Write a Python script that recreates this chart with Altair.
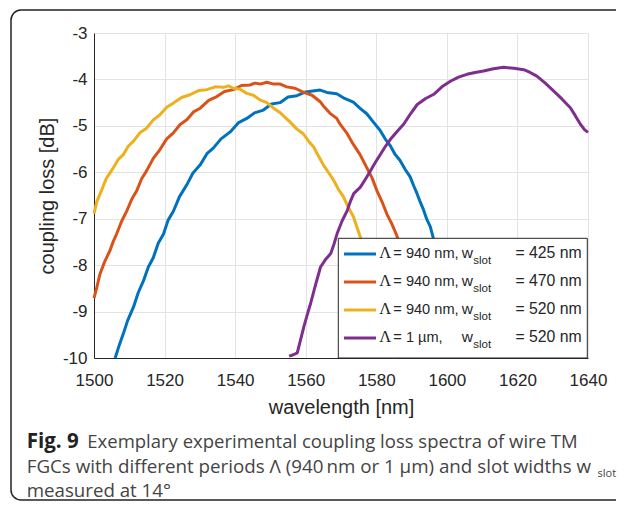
import math
import altair as alt
import pandas as pd

# ---------------- data ----------------
wl_425 = [1506.0, 1507.0, 1508.3, 1509.5, 1511.2, 1512.5, 1514.0, 1515.4, 1516.8, 1518.2,
          1519.7, 1521.0, 1522.5, 1524.2, 1526.3, 1528.0, 1530.1, 1532.0, 1533.8, 1536.0,
          1538.6, 1541.0, 1543.3, 1545.5, 1548.0, 1550.3, 1552.7, 1555.0, 1557.5, 1560.0,
          1562.0, 1564.1, 1566.0, 1568.8, 1571.0, 1573.5, 1575.5, 1577.3, 1579.3, 1581.1,
          1582.5, 1583.9, 1585.3, 1586.7, 1588.2, 1589.6, 1590.6, 1591.5, 1592.5, 1593.4,
          1594.3, 1595.3, 1596.2, 1597.2, 1598.3, 1599.5, 1600.8, 1602.2, 1603.6]
db_425 = [-10.0, -9.76, -9.48, -9.20, -8.90, -8.60, -8.34, -8.04, -7.84, -7.53,
          -7.33, -7.03, -6.84, -6.53, -6.27, -6.02, -5.84, -5.60, -5.48, -5.28,
          -5.13, -4.93, -4.84, -4.72, -4.66, -4.53, -4.50, -4.38, -4.35, -4.27,
          -4.25, -4.23, -4.28, -4.31, -4.41, -4.49, -4.63, -4.74, -4.93, -5.10,
          -5.28, -5.42, -5.61, -5.74, -5.94, -6.10, -6.29, -6.45, -6.65, -6.81,
          -7.01, -7.17, -7.43, -7.72, -8.05, -8.45, -8.90, -9.40, -10.0]

wl_470 = [1500.0, 1500.8, 1501.7, 1503.0, 1504.5, 1505.4, 1506.4, 1507.8, 1509.3, 1510.7,
          1512.1, 1513.5, 1514.9, 1516.8, 1518.7, 1520.6, 1522.5, 1524.4, 1526.3, 1528.2,
          1530.1, 1532.5, 1534.8, 1537.0, 1539.5, 1541.8, 1544.2, 1545.6, 1547.1, 1549.0,
          1550.9, 1552.8, 1554.6, 1557.0, 1559.4, 1561.8, 1564.1, 1565.0, 1566.9, 1568.8,
          1569.8, 1571.6, 1573.5, 1575.4, 1577.3, 1578.8, 1580.2, 1581.6, 1583.0, 1584.4,
          1585.8, 1587.0, 1588.3, 1589.6, 1591.0, 1592.4, 1593.8, 1595.0]
db_470 = [-8.71, -8.48, -8.19, -7.93, -7.69, -7.50, -7.33, -7.06, -6.83, -6.58,
          -6.40, -6.14, -5.97, -5.70, -5.51, -5.28, -5.15, -4.97, -4.87, -4.70,
          -4.62, -4.45, -4.37, -4.26, -4.22, -4.13, -4.12, -4.08, -4.10, -4.06,
          -4.10, -4.10, -4.16, -4.19, -4.28, -4.34, -4.48, -4.57, -4.73, -4.84,
          -4.97, -5.15, -5.40, -5.62, -5.90, -6.12, -6.40, -6.63, -6.90, -7.11,
          -7.36, -7.62, -7.95, -8.30, -8.72, -9.15, -9.60, -10.0]

wl_520 = [1500.0, 1500.8, 1501.7, 1503.5, 1505.5, 1506.9, 1508.3, 1509.7, 1511.2, 1513.0,
          1514.9, 1516.8, 1518.7, 1520.6, 1522.5, 1524.8, 1527.2, 1529.6, 1532.0, 1534.3,
          1536.7, 1538.1, 1539.5, 1541.4, 1543.3, 1545.2, 1547.0, 1549.0, 1550.9, 1552.8,
          1554.6, 1555.6, 1557.5, 1559.3, 1560.8, 1562.2, 1563.6, 1565.0, 1566.5, 1567.9,
          1569.3, 1570.7, 1572.1, 1573.5, 1574.5, 1575.4, 1576.8, 1578.2, 1579.6, 1581.0,
          1582.5, 1584.0, 1585.2]
db_520 = [-6.89, -6.63, -6.47, -6.13, -5.90, -5.72, -5.62, -5.44, -5.33, -5.15,
          -5.05, -4.87, -4.76, -4.60, -4.51, -4.39, -4.33, -4.24, -4.22, -4.16,
          -4.17, -4.14, -4.19, -4.21, -4.30, -4.34, -4.44, -4.50, -4.62, -4.72,
          -4.85, -4.92, -5.07, -5.17, -5.33, -5.45, -5.65, -5.84, -6.01, -6.17,
          -6.37, -6.53, -6.76, -6.95, -7.18, -7.38, -7.70, -8.05, -8.45, -8.85,
          -9.30, -9.70, -10.0]

wl_1um = [1555.3, 1556.5, 1557.6, 1558.5, 1559.5, 1560.5, 1561.4, 1562.8, 1564.2, 1565.6,
          1567.1, 1568.0, 1568.9, 1570.3, 1571.8, 1572.7, 1573.6, 1575.5, 1577.0, 1578.4,
          1579.8, 1581.2, 1582.6, 1584.0, 1585.9, 1587.8, 1589.7, 1591.6, 1594.0, 1596.3,
          1598.6, 1601.0, 1603.3, 1605.7, 1608.0, 1610.4, 1613.2, 1616.1, 1619.0, 1621.8,
          1623.6, 1625.5, 1627.9, 1630.3, 1632.6, 1635.0, 1636.4, 1637.8, 1639.0, 1640.0]
db_1um = [-9.96, -9.93, -9.89, -9.62, -9.32, -9.05, -8.82, -8.42, -8.04, -7.88,
          -7.75, -7.55, -7.32, -7.05, -6.82, -6.62, -6.46, -6.32, -6.14, -5.96,
          -5.78, -5.61, -5.44, -5.29, -5.12, -4.96, -4.74, -4.54, -4.41, -4.32,
          -4.16, -4.04, -3.95, -3.89, -3.85, -3.82, -3.77, -3.74, -3.76, -3.79,
          -3.85, -3.93, -4.08, -4.25, -4.42, -4.61, -4.78, -4.96, -5.08, -5.14]

series_names = ["w425", "w470", "w520", "p1um"]
series_colors = ["#0072BD", "#D95319", "#EDB120", "#7E2F8E"]
legend_periods = ["= 940 nm,", "= 940 nm,", "= 940 nm,", "= 1 µm,"]
legend_slots = ["= 425 nm", "= 470 nm", "= 520 nm", "= 520 nm"]

x_ticks = [1500, 1520, 1540, 1560, 1580, 1600, 1620, 1640]
y_ticks = [-10, -9, -8, -7, -6, -5, -4, -3]

caption_bold = "Fig. 9"
caption_l1 = "Exemplary experimental coupling loss spectra of wire TM"
caption_l2 = "FGCs with different periods \u039b (940\u2009nm or 1 \u00b5m) and slot widths w"
caption_sub = "slot"
caption_l3 = "measured at 14\u00b0"

# ---------------- build table ----------------
rows = []
for name, wls, dbs in zip(series_names, [wl_425, wl_470, wl_520, wl_1um],
                          [db_425, db_470, db_520, db_1um]):
    for w, d in zip(wls, dbs):
        rows.append({"series": name, "wl": w, "db": d})
df = pd.DataFrame(rows)

W, H = 494, 325
SANS = "Liberation Sans"
CAP = "Open Sans"
AX = "#262626"

lines = alt.Chart(df).mark_line(strokeWidth=3, strokeJoin="round").encode(
    x=alt.X("wl:Q",
            scale=alt.Scale(domain=[1500, 1640], nice=False, zero=False),
            axis=alt.Axis(values=x_ticks, format="d", title="wavelength [nm]",
                          ticks=False, tickSize=0, labelPadding=27,
                          labelBaseline="alphabetic", labelFlush=False,
                          labelOverlap=False, labelFont=SANS, labelFontSize=17,
                          labelColor=AX, titleFont=SANS, titleFontSize=20,
                          titleFontWeight="normal", titleColor=AX,
                          titleX=247, titleY=55, titleBaseline="alphabetic",
                          titleAlign="center", grid=True, gridColor="#e3e3e3",
                          domainColor=AX)),
    y=alt.Y("db:Q",
            scale=alt.Scale(domain=[-10, -3], nice=False, zero=False),
            axis=alt.Axis(values=y_ticks, labelExpr="'' + datum.value",
                          title="coupling loss [dB]", ticks=False, tickSize=0,
                          labelPadding=7, labelFlush=False, labelOverlap=False,
                          labelFont=SANS, labelFontSize=17, labelColor=AX,
                          titleFont=SANS, titleFontSize=20, titleFontWeight="normal",
                          titleColor=AX, titleX=-41, titleY=162.5, titleAngle=270,
                          titleBaseline="alphabetic", titleAlign="center",
                          grid=True, gridColor="#e3e3e3", domainColor=AX)),
    color=alt.Color("series:N",
                    scale=alt.Scale(domain=series_names, range=series_colors),
                    legend=None),
    order=alt.Order("wl:Q"),
)

one = pd.DataFrame({"k": [0]})


def txt(s, x, y, size, font=SANS, align="left", weight="normal", color=AX,
        baseline="alphabetic"):
    return alt.Chart(one).mark_text(
        text=s, font=font, fontSize=size, align=align, baseline=baseline,
        fontWeight=weight, color=color,
    ).encode(x=alt.value(x), y=alt.value(y))


layers = [lines]

# legend box
layers.append(alt.Chart(one).mark_rect(fill="white", stroke=AX, strokeWidth=1).encode(
    x=alt.value(244.3), x2=alt.value(493.3), y=alt.value(205.3), y2=alt.value(325)))

for i in range(4):
    yc = 221 + 28 * i
    layers.append(alt.Chart(one).mark_rule(color=series_colors[i], strokeWidth=3).encode(
        x=alt.value(250), x2=alt.value(282), y=alt.value(yc)))
    layers.append(txt("\u039b", 285.3, yc + 4, 16.5, font="Liberation Serif"))
    layers.append(txt(legend_periods[i], 299.3, yc + 4, 14.6))
    layers.append(txt("w", 367.7, yc + 4, 15.5))
    layers.append(txt("slot", 379.3, yc + 10, 11.5))
    layers.append(txt(legend_slots[i], 487.7, yc + 4, 15.8, align="right"))

# caption
CAPC = "#444444"
layers.append(txt(caption_bold, -67.3, 414.5, 20.5, font=CAP, weight="bold", color="#222222"))
layers.append(txt(caption_l1, -6.7, 414.5, 18.5, font=CAP, color=CAPC))
layers.append(txt(caption_l2, -67.3, 439.8, 18.75, font=CAP, color=CAPC))
layers.append(txt(caption_sub, 503.5, 443.5, 11, font=CAP, color=CAPC))
layers.append(txt(caption_l3, -67.3, 463.8, 18.7, font=CAP, color=CAPC))

# figure frame (open to the right, rounded left corners)
FL, FT, FB, R = -83, -23, 467, 10
FC = "#222222"
layers.append(alt.Chart(one).mark_rule(color=FC, strokeWidth=1.5).encode(
    x=alt.value(FL + R), x2=alt.value(522), y=alt.value(FT)))
layers.append(alt.Chart(one).mark_rule(color=FC, strokeWidth=1.5).encode(
    x=alt.value(FL + R), x2=alt.value(522), y=alt.value(FB)))
layers.append(alt.Chart(one).mark_rule(color=FC, strokeWidth=1.5).encode(
    x=alt.value(FL), y=alt.value(FT + R), y2=alt.value(FB - R)))
layers.append(alt.Chart(one).mark_arc(color=FC, innerRadius=R - 0.75, outerRadius=R + 0.75,
                                      theta=1.5 * math.pi, theta2=2 * math.pi).encode(
    x=alt.value(FL + R), y=alt.value(FT + R)))
layers.append(alt.Chart(one).mark_arc(color=FC, innerRadius=R - 0.75, outerRadius=R + 0.75,
                                      theta=math.pi, theta2=1.5 * math.pi).encode(
    x=alt.value(FL + R), y=alt.value(FB - R)))

chart = alt.layer(*layers).properties(
    width=W, height=H,
    padding={"left": 86, "top": 25, "right": 29, "bottom": 143},
    autosize=alt.AutoSizeParams(type="none"),
).configure_view(stroke="transparent")

chart.save("out.html", embed_options={"renderer": "svg", "actions": False})
